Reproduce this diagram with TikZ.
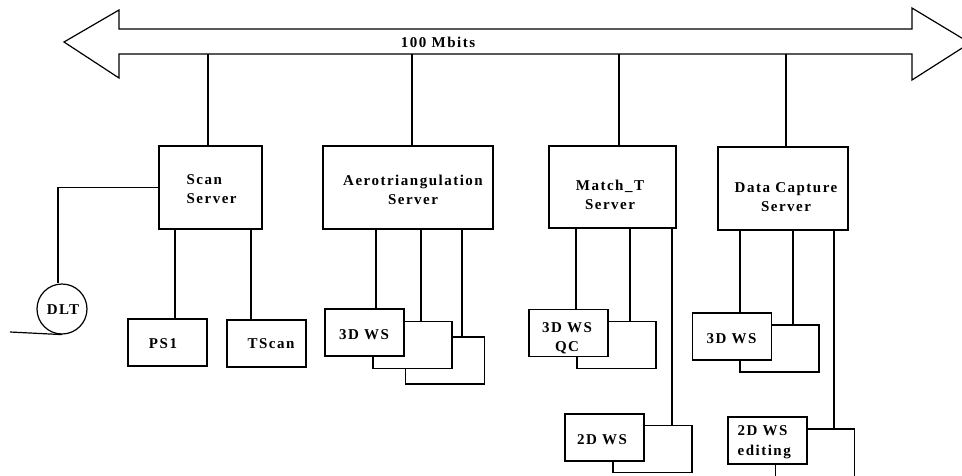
\documentclass[tikz,border=0pt]{standalone}
\usepackage{fontspec}
\newfontfamily\lblfont{Liberation Serif}[LetterSpace=10]
\begin{document}
\begin{tikzpicture}[x=1pt,y=-1pt, line width=1.2pt,
  box/.style={draw, fill=white, inner sep=0pt, minimum width=79pt, minimum height=47pt},
  srv/.style={draw, fill=white, inner sep=0pt, minimum height=83pt},
  lbl/.style={font=\lblfont\bfseries\fontsize{15}{19.5}\selectfont, inner sep=0pt, align=center},
]
\useasboundingbox (0,0) rectangle (962,475);
\clip (0,0) rectangle (962,475);

% bus
\draw[line join=miter] (64,42) -- (119,10) -- (119,29) -- (912,29) -- (912,8) -- (970,43)
  -- (912,80) -- (912,54) -- (119,54) -- (119,78) -- cycle;
\node[lbl] (bus) at (438,42) {100 Mbits};
\coordinate (busb) at (0,54);

% servers
\node[srv, minimum width=103pt] (scan) at (210.5,187.5) {};
\node[srv, minimum width=170pt] (aero) at (408,187.5) {};
\node[srv, minimum width=127pt, minimum height=82pt] (match) at (612.5,187) {};
\node[srv, minimum width=130pt] (dcap) at (783,188.5) {};
\node[lbl, align=left, anchor=west] at (186,189) {Scan\\Server};
\node[lbl] at (413,190) {Aerotriangulation\\Server};
\node[lbl] at (610,195) {Match\_T\\Server};
\node[lbl] at (786,197) {Data Capture\\Server};

\draw (208,0 |- scan.north) -- (208,0 |- busb);
\draw (412,0 |- aero.north) -- (412,0 |- busb);
\draw (619,0 |- match.north) -- (619,0 |- busb);
\draw (786,0 |- dcap.north) -- (786,0 |- busb);

% scan server clients
\node[draw, circle, minimum size=50pt, inner sep=0pt] (dlt) at (62,309) {};
\node[lbl] at (63,310) {DLT};
\coordinate (dltend) at (10,332);
\draw (scan.west) -| ([xshift=-4pt]dlt.north);
\draw (dlt.south) -- (dltend);
\node[box] (ps1) at (167.5,342.5) {};
\node[lbl] at (163,344) {PS1};
\node[box] (tscan) at (266.5,343.5) {};
\node[lbl] at (271,344) {TScan};
\draw (175,0 |- scan.south) -- (175,0 |- ps1.north);
\draw (251,0 |- scan.south) -- (251,0 |- tscan.north);

% aerotriangulation clients
\node[box] (a3) at (445,360.5) {};
\node[box] (a2) at (412.5,345) {};
\node[box] (a1) at (364.5,332.5) {};
\node[lbl] at (364,335) {3D WS};
\draw (376,0 |- aero.south) -- (376,0 |- a1.north);
\draw (421,0 |- aero.south) -- (421,0 |- a2.north);
\draw (462,0 |- aero.south) -- (462,0 |- a3.north);

% match_T clients
\node[box] (m2) at (616.5,345) {};
\node[box] (m1) at (568.5,333) {};
\node[lbl] at (567,338) {3D WS\\QC};
\node[box] (w2) at (652.5,449) {};
\node[box] (w1) at (604.5,437.5) {};
\node[lbl] at (602,440) {2D WS};
\draw (576,0 |- match.south) -- (576,0 |- m1.north);
\draw (630,0 |- match.south) -- (630,0 |- m2.north);
\draw (672,0 |- match.south) -- (672,0 |- w2.north);

% data capture clients
\node[box] (d2) at (779.5,348.5) {};
\node[box] (d1) at (732,336.5) {};
\node[lbl] at (731.5,339) {3D WS};
\node[box, minimum height=51pt] (e2) at (815,454.5) {};
\node[box] (e1) at (767.5,440.5) {};
\node[lbl, align=left, anchor=west] at (737,442) {2D WS\\editing};
\draw (740,0 |- dcap.south) -- (740,0 |- d1.north);
\draw (793,0 |- dcap.south) -- (793,0 |- d2.north);
\draw (834,0 |- dcap.south) -- (834,0 |- e2.north);
\end{tikzpicture}
\end{document}
